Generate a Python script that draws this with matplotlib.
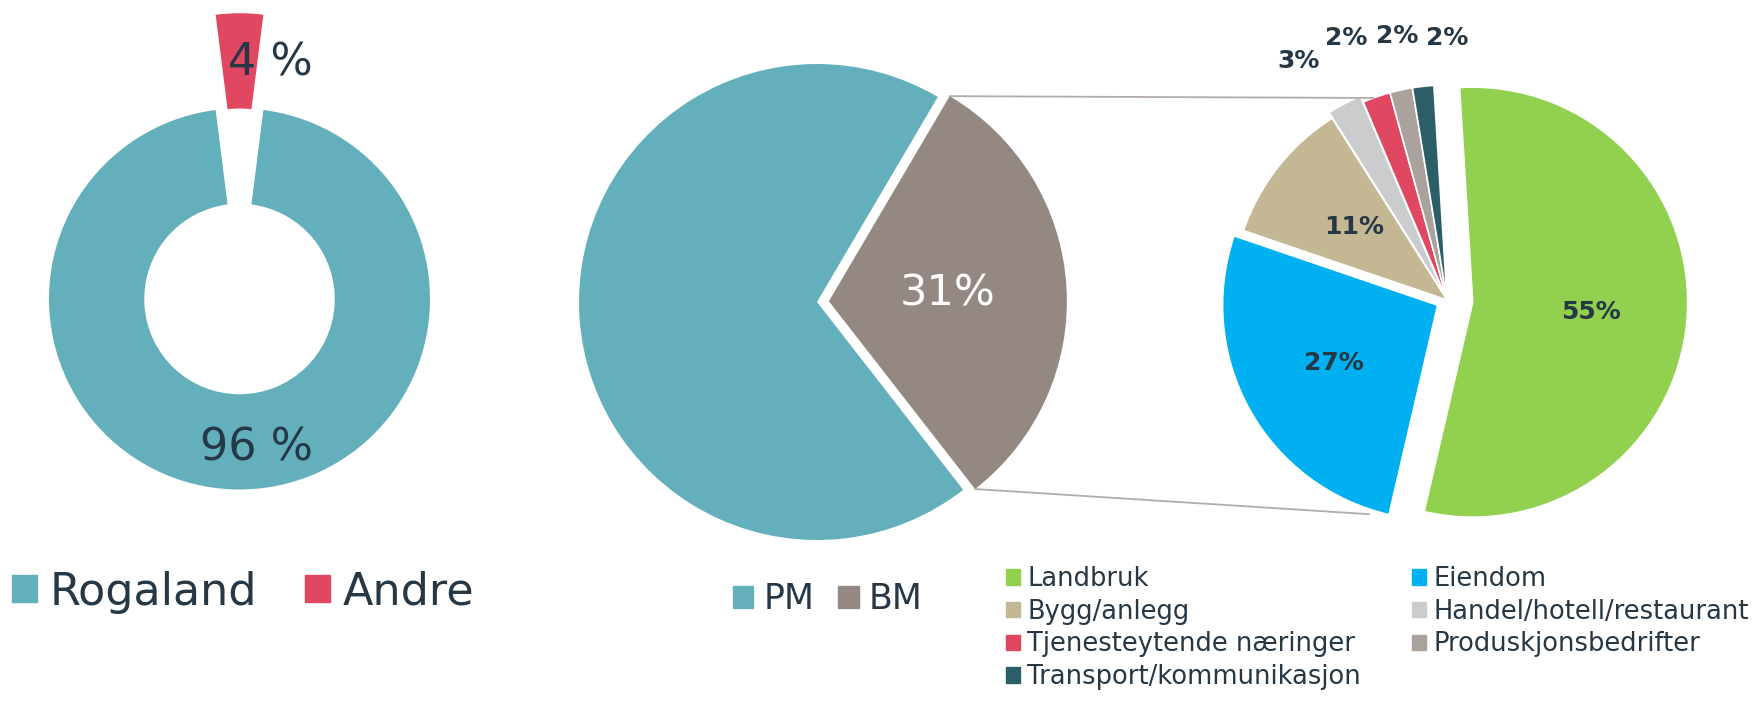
import matplotlib
matplotlib.use("Agg")
import matplotlib.pyplot as plt
from matplotlib.patches import ConnectionPatch, Patch
import numpy as np

# ---- data ----
region_labels = ["Rogaland", "Andre"]
region_values = [96, 4]

type_labels = ["PM", "BM"]
type_values = [69, 31]

sector_labels = ["Landbruk", "Eiendom", "Bygg/anlegg", "Handel/hotell/restaurant",
                 "Tjenesteytende næringer", "Produskjonsbedrifter", "Transport/kommunikasjon"]
sector_values = [54.6, 26.6, 10.8, 2.6, 2.1, 1.7, 1.6]

# ---- style ----
TEXT = "#263746"
region_colors = ["#63b0bc", "#e04862"]
type_colors = ["#63b0bc", "#948882"]
sector_colors = ["#92d050", "#00b0f0", "#c4b793", "#cbcccd", "#e04862", "#a9a29d", "#2b5e66"]
LINE = "#b4aca7"

W, H = 1763, 702
fig = plt.figure(figsize=(W / 100, H / 100), dpi=100)


def pie_axes(cx, cy, r, k):
    """axes centred on pixel (cx, cy) where one data unit equals r pixels"""
    ax = fig.add_axes([(cx - k * r) / W, (H - cy - k * r) / H, 2 * k * r / W, 2 * k * r / H])
    return ax


def finish(ax, k):
    ax.set_xlim(-k, k)
    ax.set_ylim(-k, k)
    ax.set_aspect("equal")
    ax.axis("off")


# ---- donut: Rogaland / Andre ----
ax1 = pie_axes(239.5, 299, 190.5, 1.6)
w1, _, t1 = ax1.pie(region_values, colors=region_colors, startangle=97.2,
                    explode=[0, 0.5], wedgeprops=dict(width=0.5, linewidth=0),
                    autopct=lambda p: f"{p:.0f} %", pctdistance=0.75,
                    textprops=dict(color=TEXT, fontsize=32))
# labels sit a little right of the slice centre, as in the original
for txt, (dx, dy) in zip(t1, [(0.09, -0.03), (0.16, -0.01)]):
    x, y = txt.get_position()
    txt.set_position((x + dx, y + dy))
finish(ax1, 1.6)
fig.legend(handles=[Patch(color=c, label=l) for c, l in zip(region_colors, region_labels)],
           loc="center left", bbox_to_anchor=(12 / W, (H - 592) / H), ncol=2,
           frameon=False, fontsize=32, labelcolor=TEXT, borderpad=0, borderaxespad=0,
           handlelength=0.56, handleheight=0.56, handletextpad=0.29, columnspacing=1.08)

# ---- middle pie: PM / BM ----
ax2 = pie_axes(817, 302, 238, 1.3)
w2, _, t2 = ax2.pie(type_values, colors=type_colors, startangle=59.5,
                    explode=[0, 0.05], wedgeprops=dict(linewidth=0),
                    autopct=lambda p: f"{p:.0f}%" if p < 50 else "", pctdistance=0.5,
                    textprops=dict(color="white", fontsize=31))
finish(ax2, 1.3)
fig.legend(handles=[Patch(color=c, label=l) for c, l in zip(type_colors, type_labels)],
           loc="center left", bbox_to_anchor=(733 / W, (H - 599) / H), ncol=2,
           frameon=False, fontsize=25, labelcolor=TEXT, borderpad=0, borderaxespad=0,
           handlelength=0.58, handleheight=0.58, handletextpad=0.29, columnspacing=0.7)

# ---- right pie: BM by sector ----
ax3 = pie_axes(1447, 300, 215, 1.5)
w3, _, t3 = ax3.pie(sector_values, colors=sector_colors, startangle=93.5, counterclock=False,
                    explode=[0.12, 0.05, 0.0, 0.03, 0.0, 0.0, 0.0],
                    wedgeprops=dict(edgecolor="white", linewidth=1.2),
                    autopct=lambda p: f"{p:.0f}%", pctdistance=0.55,
                    textprops=dict(color=TEXT, fontsize=18, fontweight="bold"))
# small slices get their labels above the pie
small_label_pos = [(-0.69, 1.11), (-0.47, 1.22), (-0.23, 1.23), (0.0, 1.22)]
for txt, pos in zip(t3[3:], small_label_pos):
    txt.set_position(pos)
finish(ax3, 1.5)

handles = [Patch(color=c, label=l) for c, l in zip(sector_colors, sector_labels)]
order = [0, 2, 4, 6, 1, 3, 5]
fig.legend(handles=[handles[i] for i in order], loc="upper left",
           bbox_to_anchor=(1006 / W, (H - 566) / H), ncol=2, frameon=False,
           fontsize=18.5, labelcolor=TEXT, borderpad=0, borderaxespad=0,
           handlelength=0.55, handleheight=0.55, handletextpad=0.27,
           columnspacing=2.0, labelspacing=0.26)

# ---- connector lines from BM to the sector pie ----
bm = w2[1]
cx, cy = bm.center
top_a = (cx + bm.r * np.cos(np.radians(bm.theta2)), cy + bm.r * np.sin(np.radians(bm.theta2)))
bot_a = (cx + bm.r * np.cos(np.radians(bm.theta1)), cy + bm.r * np.sin(np.radians(bm.theta1)))
top_b = (np.cos(np.radians(110)), np.sin(np.radians(110)))
bot_b = (1.06 * np.cos(np.radians(250)), 1.06 * np.sin(np.radians(250)))
for a, b in [(top_a, top_b), (bot_a, bot_b)]:
    con = ConnectionPatch(xyA=a, coordsA=ax2.transData, xyB=b, coordsB=ax3.transData,
                          color=LINE, linewidth=1.3)
    fig.add_artist(con)

fig.savefig("out.png", dpi=100)
